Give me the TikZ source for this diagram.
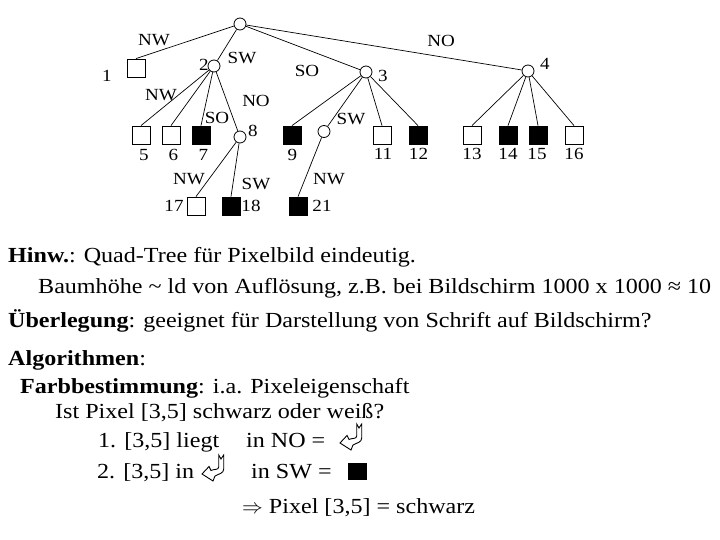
\documentclass[tikz,border=0pt]{standalone}
\usepackage{fontspec}
\setmainfont[FakeStretch=1.12]{Liberation Serif}
\begin{document}
\begin{tikzpicture}[x=1pt,y=-1pt,
  knot/.style={circle,draw,line width=0.8pt,minimum size=12pt,inner sep=0pt,fill=white},
  wbox/.style={rectangle,draw,line width=0.8pt,minimum size=18pt,inner sep=0pt,fill=white},
  bbox/.style={rectangle,draw,fill=black,line width=0.8pt,minimum size=18pt,inner sep=0pt},
  lab/.style={inner sep=0pt,font=\fontsize{17}{17}\selectfont},
  edge/.style={line width=0.7pt},
  txt/.style={anchor=base west,inner sep=0pt,font=\fontsize{21.5}{24}\selectfont},
  harrow/.pic={\draw[line width=0.9pt,line join=miter]
     (16.7,0) -- (19,4) -- (21.7,0) -- (21.7,14) to[out=-90,in=30] (13,21) -- (11,26)
     -- (0,19) -- (7,11.5) -- (9,15.5) to[out=30,in=-90] (16.7,12) -- cycle;}
]
\useasboundingbox (0,0) rectangle (720,540);
% tree nodes
\node[knot] (r) at (240,24) {};
\node[wbox] (n1) at (136,68) {};
\node[knot] (n2) at (214,66) {};
\node[knot] (n3) at (366,72) {};
\node[knot] (n4) at (528,71) {};
\node[wbox] (n5) at (141,135) {};
\node[wbox] (n6) at (171,135) {};
\node[bbox] (n7) at (201,135) {};
\node[knot] (n8) at (240,137) {};
\node[bbox] (n9) at (292,135) {};
\node[knot] (n10) at (324,131.5) {};
\node[wbox] (n11) at (382,135) {};
\node[bbox] (n12) at (418,135) {};
\node[wbox] (n13) at (472,135) {};
\node[bbox] (n14) at (508,135) {};
\node[bbox] (n15) at (538,135) {};
\node[wbox] (n16) at (574,135) {};
\node[wbox] (n17) at (196,206) {};
\node[bbox] (n18) at (231,206) {};
\node[bbox] (n21) at (298,206) {};
% edges
\begin{scope}[edge]
\draw (r) -- (n1.north);
\draw (r) -- (n2);
\draw (r) -- (n3);
\draw (r) -- (n4);
\draw (n2) -- (n5.north);
\draw (n2) -- (n6.north);
\draw (n2) -- (n7.north);
\draw (n2) -- (n8);
\draw (n3) -- (n9.north);
\draw (n3) -- (n10);
\draw (n3) -- (n11.north);
\draw (n3) -- (n12.north);
\draw (n4) -- (n13.north);
\draw (n4) -- (n14.north);
\draw (n4) -- (n15.north);
\draw (n4) -- (n16.north);
\draw (n8) -- (n17.north);
\draw (n8) -- (n18.north);
\draw (n10) -- (n21.north);
\end{scope}
% labels
\node[lab] (lNW1) at (154,40) {NW};
\node[lab] (lSW1) at (242,58) {SW};
\node[lab] (lSO1) at (307,71) {SO};
\node[lab] (lNO1) at (441,41) {NO};
\node[lab] (l1) at (107,76) {1};
\node[lab] (l2) at (204,65) {2};
\node[lab] (l3) at (383,76) {3};
\node[lab] (l4) at (545,64) {4};
\node[lab] (lNW2) at (161,95) {NW};
\node[lab] (lNO2) at (256,101) {NO};
\node[lab] (lSO2) at (217,118) {SO};
\node[lab] (lSW2) at (351,119) {SW};
\node[lab] (l8) at (253,131) {8};
\node[lab] (l5) at (144,155) {5};
\node[lab] (l6) at (173.5,155) {6};
\node[lab] (l7) at (203.5,155) {7};
\node[lab] (l9) at (292.5,155) {9};
\node[lab] (l11) at (383,154) {11};
\node[lab] (l12) at (418.5,154) {12};
\node[lab] (l13) at (472,154) {13};
\node[lab] (l14) at (508,154) {14};
\node[lab] (l15) at (537,154) {15};
\node[lab] (l16) at (574,154) {16};
\node[lab] (lNW3) at (189,179) {NW};
\node[lab] (lSW3) at (256,184) {SW};
\node[lab] (lNW4) at (329,179) {NW};
\node[lab] (l17) at (174,206) {17};
\node[lab] (l18) at (251,206) {18};
\node[lab] (l21) at (322,206) {21};
% text
\node[txt] (t1) at (8,262) {\textbf{Hinw.}: Quad-Tree für Pixelbild eindeutig.};
\node[txt] (t2) at (38,293) {Baumhöhe \textasciitilde{} ld von Auflösung, z.B. bei Bildschirm 1000 x 1000 ≈ 10};
\node[txt] (t3) at (8,327) {\textbf{Überlegung}: geeignet für Darstellung von Schrift auf Bildschirm?};
\node[txt] (t4) at (8,365) {\textbf{Algorithmen}:};
\node[txt] (t5) at (20,393) {\textbf{Farbbestimmung}: i.a. Pixeleigenschaft};
\node[txt] (t6) at (55,418) {Ist Pixel [3,5] schwarz oder weiß?};
\node[txt] (t7) at (98,447) {1. [3,5] liegt};
\node[txt] (t7b) at (246,447) {in NO =};
\pic at (340,424) {harrow};
\node[txt] (t8) at (97,478) {2. [3,5] in};
\pic at (202,455) {harrow};
\node[txt] (t8b) at (251,478) {in SW =};
\node[rectangle,fill=black,minimum width=19pt,minimum height=17pt,inner sep=0pt] (sq) at (357.5,471.5) {};
\node[txt] (t9) at (242,513) {$\Rightarrow$ Pixel [3,5] = schwarz};
\end{tikzpicture}
\end{document}
